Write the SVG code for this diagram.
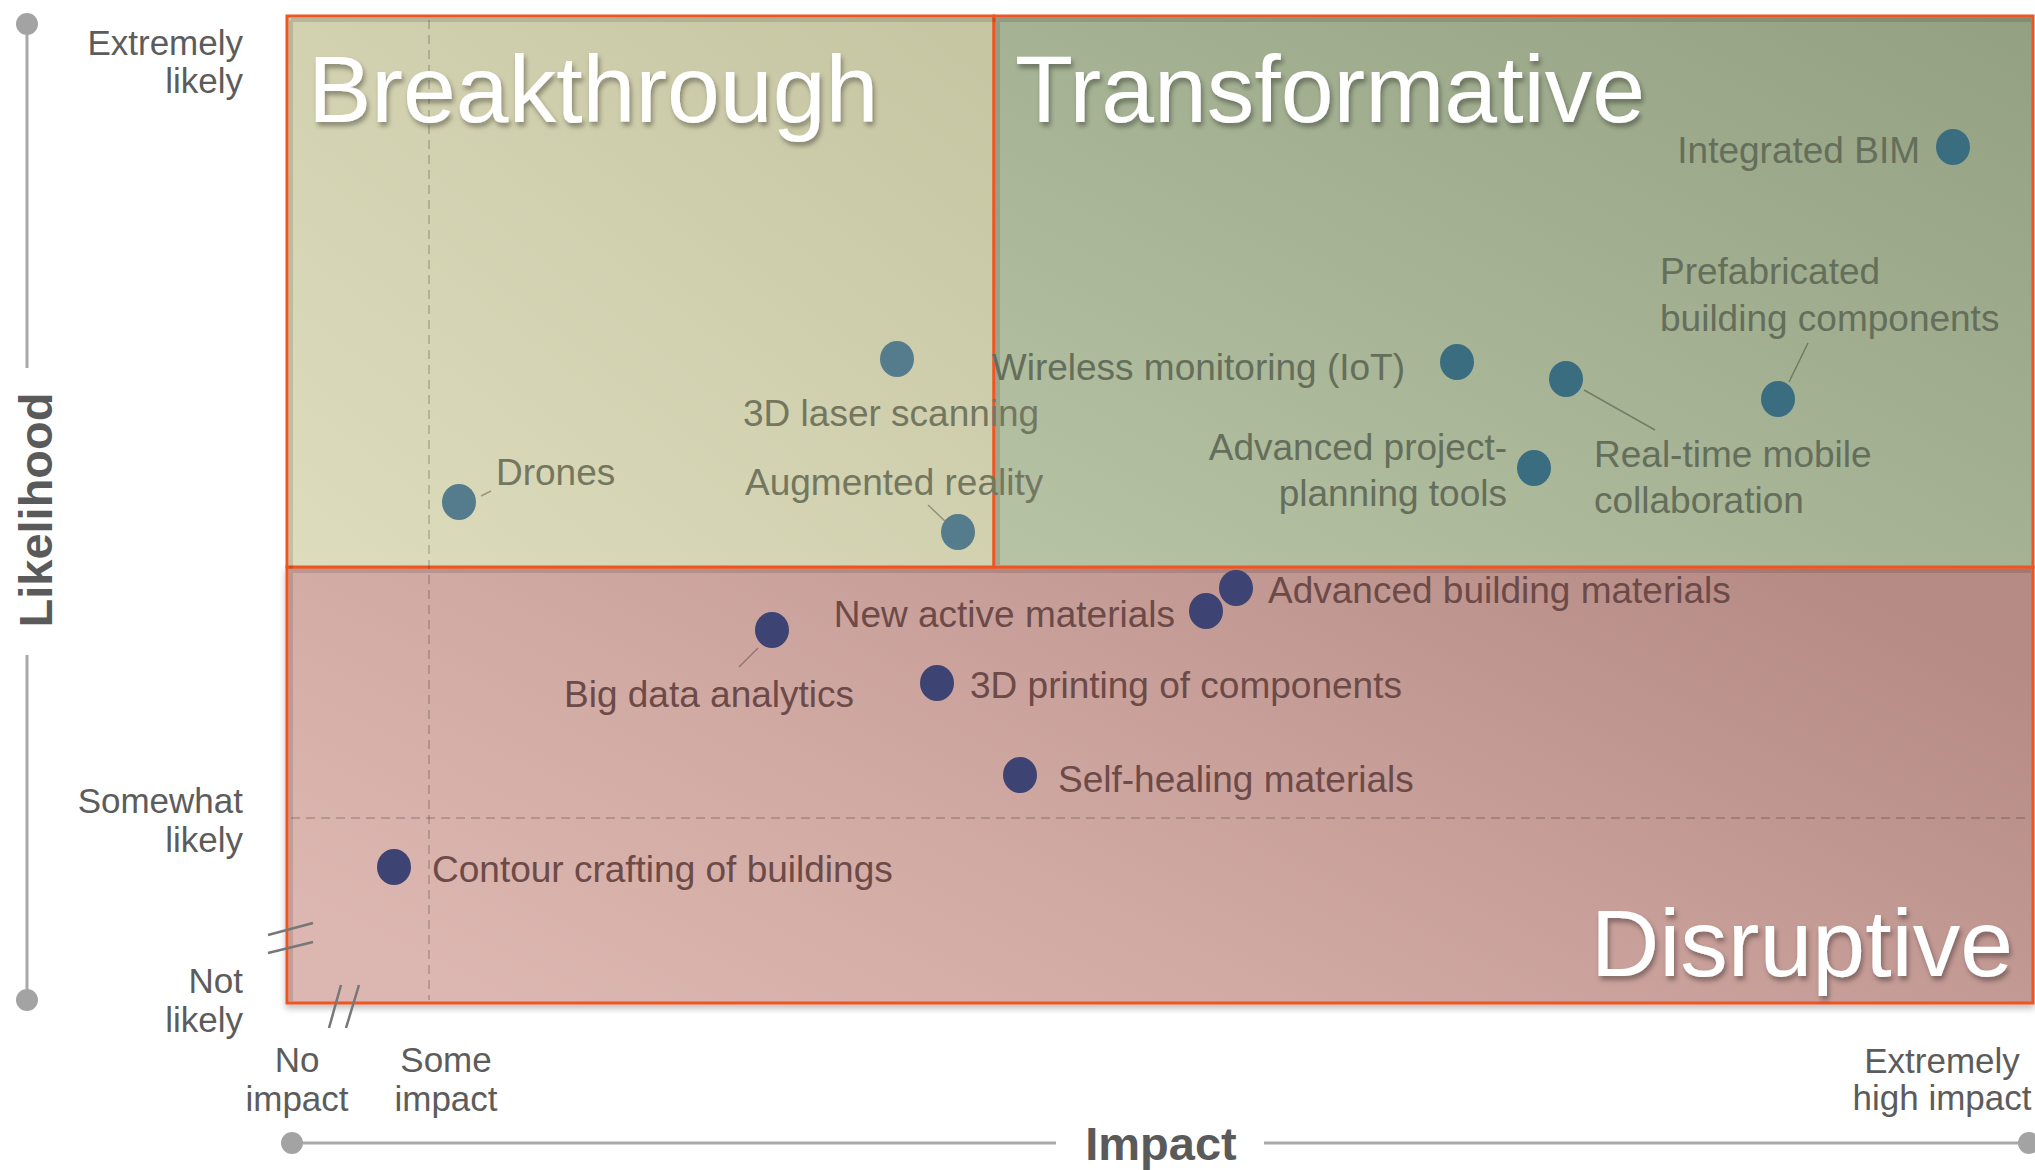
<svg xmlns="http://www.w3.org/2000/svg" width="2035" height="1170" viewBox="0 0 2035 1170">
<defs>
<linearGradient id="gB" x1="1" y1="0" x2="0" y2="1">
<stop offset="0" stop-color="#c6c5a2"/><stop offset="1" stop-color="#dddcbd"/>
</linearGradient>
<linearGradient id="gT" x1="1" y1="0" x2="0" y2="1">
<stop offset="0" stop-color="#93a082"/><stop offset="1" stop-color="#b6c3a4"/>
</linearGradient>
<linearGradient id="gD" x1="0" y1="0.75" x2="1" y2="0.25">
<stop offset="0" stop-color="#dcb6b0"/><stop offset="0.35" stop-color="#d2aaa4"/><stop offset="1" stop-color="#b68b86"/>
</linearGradient>
<filter id="sh" x="-5%" y="-20%" width="110%" height="150%">
<feDropShadow dx="2" dy="4" stdDeviation="2.5" flood-color="#000" flood-opacity="0.35"/>
</filter>
<filter id="boxsh" x="-2%" y="-2%" width="104%" height="106%">
<feDropShadow dx="0" dy="4" stdDeviation="3" flood-color="#000" flood-opacity="0.25"/>
</filter>
<style>
.q{stroke:#ee5522;stroke-width:3}
.title{font-family:"Liberation Sans",Arial,sans-serif;font-size:95px;fill:#ffffff}
.lab{font-family:"Liberation Sans",Arial,sans-serif;font-size:37px}
.ly{fill:#74775f}
.lg{fill:#646e5a}
.lp{fill:#6c4a48}
.ax{font-family:"Liberation Sans",Arial,sans-serif;font-size:35px;fill:#5c5c5c}
.axb{font-family:"Liberation Sans",Arial,sans-serif;font-size:47px;font-weight:bold;fill:#5a5a5a}
.axl{stroke:#a8a8a8;stroke-width:3;fill:none}
.axc{fill:#a3a3a3}
.dash{stroke:#000;stroke-opacity:0.16;stroke-width:2;stroke-dasharray:9 6;fill:none}
.brk{stroke:#777;stroke-width:2.5;fill:none}
.lead{stroke:#000;stroke-opacity:0.3;stroke-width:1.5;fill:none}
.dy{fill:#557c8c}
.dg{fill:#3a6d80}
.dn{fill:#3d4373}
</style>
</defs>
<rect width="2035" height="1170" fill="#ffffff"/>

<g id="quadrants">
<g id="q-disruptive" filter="url(#boxsh)">
<rect x="287" y="567" width="1746" height="436" fill="url(#gD)" class="q"/>
</g>
<g id="q-breakthrough">
<rect x="287" y="16" width="707" height="551" fill="url(#gB)" class="q"/>
</g>
<g id="q-transformative">
<rect x="994" y="16" width="1039" height="551" fill="url(#gT)" class="q"/>
</g>
<path d="M291 20 H2031 M291 20 V1001 M291 571 H2031 M998 20 V565" stroke="#000" stroke-opacity="0.12" stroke-width="4" fill="none"/>
<path d="M429 20 V1000" class="dash"/>
<path d="M291 818 H2031" class="dash"/>
<text class="title" x="308" y="122" filter="url(#sh)">Breakthrough</text>
<text class="title" x="1015" y="122" filter="url(#sh)">Transformative</text>
<text class="title" x="2013" y="976" text-anchor="end" filter="url(#sh)">Disruptive</text>
</g>

<g id="axes">
<g id="axis-likelihood">
<path d="M27 24 V368 M27 655 V1000" class="axl"/>
<circle cx="27" cy="24" r="11" class="axc"/>
<circle cx="27" cy="1000" r="11" class="axc"/>
<text class="axb" transform="translate(52 510) rotate(-90)" text-anchor="middle">Likelihood</text>
<text class="ax" x="243" y="55" text-anchor="end">Extremely</text>
<text class="ax" x="243" y="93" text-anchor="end">likely</text>
<text class="ax" x="243" y="813" text-anchor="end">Somewhat</text>
<text class="ax" x="243" y="852" text-anchor="end">likely</text>
<text class="ax" x="243" y="993" text-anchor="end">Not</text>
<text class="ax" x="243" y="1032" text-anchor="end">likely</text>
<path d="M268 935 L313 923 M268 953 L313 942" class="brk"/>
</g>
<g id="axis-impact">
<path d="M292 1143 H1056 M1264 1143 H2028" class="axl"/>
<circle cx="292" cy="1143" r="11" class="axc"/>
<circle cx="2029" cy="1143" r="11" class="axc"/>
<text class="axb" x="1161" y="1160" text-anchor="middle">Impact</text>
<text class="ax" x="297" y="1072" text-anchor="middle">No</text>
<text class="ax" x="297" y="1111" text-anchor="middle">impact</text>
<text class="ax" x="446" y="1072" text-anchor="middle">Some</text>
<text class="ax" x="446" y="1111" text-anchor="middle">impact</text>
<text class="ax" x="1942" y="1073" text-anchor="middle">Extremely</text>
<text class="ax" x="1942" y="1110" text-anchor="middle">high impact</text>
<path d="M329 1028 L341 985 M346 1028 L359 985" class="brk"/>
</g>
</g>

<g id="connectors">
<path d="M481 496 L491 491" class="lead"/>
<path d="M928 505 L946 522" class="lead"/>
<path d="M1584 390 L1655 430" class="lead"/>
<path d="M1808 343 L1789 382" class="lead"/>
<path d="M758 648 L739 667" class="lead"/>
</g>

<g id="n-drones"><ellipse cx="459" cy="502" rx="17" ry="18" class="dy"/><text class="lab ly" x="496" y="485">Drones</text></g>
<g id="n-3d-laser"><ellipse cx="897" cy="359" rx="17" ry="18" class="dy"/><text class="lab ly" x="743" y="426">3D laser scanning</text></g>
<g id="n-ar"><ellipse cx="958" cy="532" rx="17" ry="18" class="dy"/><text class="lab ly" x="745" y="495">Augmented reality</text></g>
<g id="n-wireless"><ellipse cx="1457" cy="362" rx="17" ry="18" class="dg"/><text class="lab lg" x="1405" y="380" text-anchor="end">Wireless monitoring (IoT)</text></g>
<g id="n-realtime"><ellipse cx="1566" cy="379" rx="17" ry="18" class="dg"/><text class="lab lg" x="1594" y="467">Real-time mobile</text><text class="lab lg" x="1594" y="513">collaboration</text></g>
<g id="n-planning"><ellipse cx="1534" cy="468" rx="17" ry="18" class="dg"/><text class="lab lg" x="1507" y="460" text-anchor="end">Advanced project-</text><text class="lab lg" x="1507" y="506" text-anchor="end">planning tools</text></g>
<g id="n-prefab"><ellipse cx="1778" cy="399" rx="17" ry="18" class="dg"/><text class="lab lg" x="1660" y="284">Prefabricated</text><text class="lab lg" x="1660" y="331">building components</text></g>
<g id="n-bim"><ellipse cx="1953" cy="147" rx="17" ry="18" class="dg"/><text class="lab lg" x="1920" y="163" text-anchor="end">Integrated BIM</text></g>
<g id="n-adv-building"><ellipse cx="1236" cy="588" rx="17" ry="18" class="dn"/><text class="lab lp" x="1268" y="603">Advanced building materials</text></g>
<g id="n-new-active"><ellipse cx="1206" cy="611" rx="17" ry="18" class="dn"/><text class="lab lp" x="1175" y="627" text-anchor="end">New active materials</text></g>
<g id="n-big-data"><ellipse cx="772" cy="630" rx="17" ry="18" class="dn"/><text class="lab lp" x="564" y="707">Big data analytics</text></g>
<g id="n-3d-printing"><ellipse cx="937" cy="683" rx="17" ry="18" class="dn"/><text class="lab lp" x="970" y="698">3D printing of components</text></g>
<g id="n-self-healing"><ellipse cx="1020" cy="775" rx="17" ry="18" class="dn"/><text class="lab lp" x="1058" y="792">Self-healing materials</text></g>
<g id="n-contour"><ellipse cx="394" cy="867" rx="17" ry="18" class="dn"/><text class="lab lp" x="432" y="882">Contour crafting of buildings</text></g>
</svg>
